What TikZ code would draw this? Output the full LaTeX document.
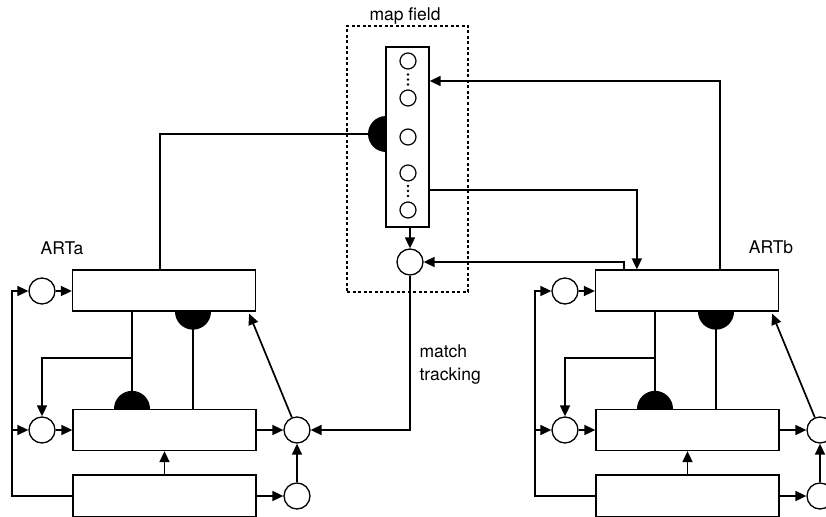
\documentclass[tikz,border=0pt]{standalone}
\usepackage{fontspec}
\setmainfont{TeX Gyre Heros}
\usetikzlibrary{arrows.meta,calc}
\begin{document}
\begin{tikzpicture}[x=1pt,y=-1pt,
  box/.style={draw,line width=1.3pt,minimum width=183pt,minimum height=41pt,inner sep=0pt},
  nrn/.style={draw,circle,line width=1.3pt,minimum size=26pt,inner sep=0pt},
  smallnrn/.style={draw,circle,line width=1.2pt,minimum size=16pt,inner sep=0pt},
  conn/.style={line width=1.7pt},
  arr/.style={conn,-{Triangle[length=11pt,width=10pt]}},
  lbl/.style={font=\fontsize{17.5}{21}\selectfont}]
\useasboundingbox (0,0) rectangle (826,516);

\foreach \p/\dx in {a/0,b/523}{
\begin{scope}[shift={(\dx,0)}]
  \node[box] (top\p) at (164,290.5) {};
  \node[box] (mid\p) at (164.5,430) {};
  \node[box,minimum height=42pt] (bot\p) at (164.5,496) {};
  \node[nrn] (lone\p) at (42,291) {};
  \node[nrn] (ltwo\p) at (42,430) {};
  \node[nrn] (rone\p) at (297,430) {};
  \node[nrn] (rtwo\p) at (297,496) {};
  \coordinate (lv\p) at (12,496);
  \coordinate (va\p) at (132,300);
  \coordinate (vb\p) at (193,300);
  % left feedback line
  \draw[arr] (bot\p.west) -- (lv\p) |- (lone\p.west);
  \draw[arr] (lv\p |- ltwo\p) -- (ltwo\p.west);
  \draw[arr] (lone\p.east) -- (lone\p.east -| top\p.west);
  \draw[arr] (ltwo\p.east) -- (ltwo\p.east -| mid\p.west);
  % top-down connections
  \draw[conn] (top\p.south -| va\p) -- (mid\p.north -| va\p);
  \fill ($(mid\p.north -| va\p)+(-18,0)$) arc[start angle=180,end angle=0,radius=18pt] -- cycle;
  \draw[arr] (va\p |- 0,358) -| (ltwo\p.north);
  \draw[conn] (top\p.south -| vb\p) -- (mid\p.north -| vb\p);
  \fill ($(top\p.south -| vb\p)+(-18,0)$) arc[start angle=180,end angle=360,radius=18pt] -- cycle;
  % right side
  \draw[arr] (mid\p.east) -- (rone\p.west);
  \draw[arr] (rone\p) -- ($(top\p.south east)+(-7,2)$);
  \draw[arr] (bot\p.east) -- (rtwo\p.west);
  \draw[arr] (rtwo\p) -- (rone\p);
  \draw[arr] (bot\p.north) -- (mid\p.south);
\end{scope}
}

% map field
\node[draw,dash pattern=on 3pt off 2.5pt,line width=1.2pt,minimum width=121pt,minimum height=266pt,inner sep=0pt] (mapf) at (407.5,159) {};
\node[lbl,anchor=base] (mapl) at (405,21) {map field};
\node[draw,line width=1.3pt,minimum width=43pt,minimum height=180pt,inner sep=0pt,fill=white] (inner) at (407.5,137) {};
\foreach \i/\yy in {1/61,2/98,3/137,4/173,5/210}
  \node[smallnrn] (m\i) at (408,\yy) {};
\foreach \yy in {74.5,79.5,84.5,186,191,196}
  \fill (408,\yy) circle[radius=1.3pt];
\fill (386,116) arc[start angle=90,end angle=270,radius=18pt] -- cycle;
\coordinate (sa) at (368,134);
\draw[conn] (sa) -| ($(topa.north west)+(88,0)$);

\node[nrn] (mc) at (410,262) {};
\draw[arr] (inner.south -| mc) -- (mc.north);
\draw[arr] (mc.south) -- (mc.south |- ronea) -- (ronea.east);
\node[lbl,anchor=base west] (mt1) at (416,357) {match};
\node[lbl,anchor=base west] (mt2) at (416,380) {tracking};

% ARTb links
\draw[arr] ($(topb.north west)+(125,0)$) |- ($(inner.east)+(0,-56)$);
\draw[arr] ($(inner.east)+(0,53)$) -| ($(topb.north west)+(42,0)$);
\draw[arr] ($(topb.north west)+(29,0)$) |- (mc.east);

\node[lbl] (lA) at (62,248) {ARTa};
\node[lbl] (lB) at (771,247) {ARTb};
\end{tikzpicture}
\end{document}
